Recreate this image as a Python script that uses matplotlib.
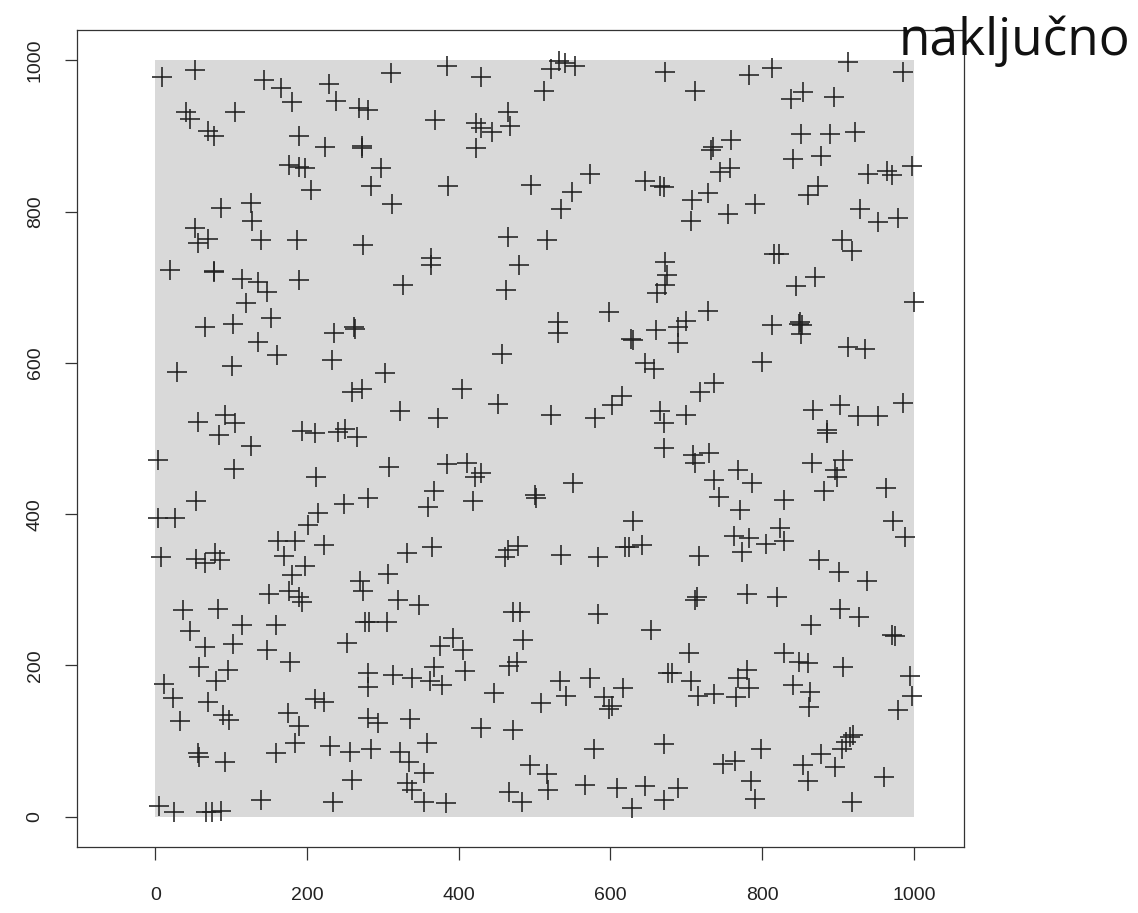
import matplotlib.pyplot as plt
from matplotlib.patches import Rectangle

# random point pattern in a 1000 x 1000 window
window_x = (0, 1000)
window_y = (0, 1000)

pts_x = [
    9, 52, 144, 166, 180, 229, 238, 311, 268, 280, 40, 46, 105, 70, 78, 189,
    224, 272, 273, 176, 189, 197, 298, 285, 206, 312, 87, 126, 128, 52, 70, 57,
    140, 187, 274,
    384, 430, 532, 540, 522, 553, 672, 513, 369, 465, 423, 430, 444, 468, 423, 386,
    495, 573, 549, 535, 645, 665, 670, 465, 517,
    711, 782, 813, 913, 986, 838, 854, 895, 735, 733, 759, 851, 890, 922, 841, 877,
    744, 758, 939, 965, 971, 997, 729, 708, 706, 755, 790, 861, 873, 929, 953, 979,
    905, 918,
    20, 77, 78, 115, 136, 148, 189, 327, 120, 65, 103, 153, 236, 262, 264, 136,
    160, 233, 29, 101, 303, 259, 272, 323, 56, 92, 105, 84, 193, 211, 241, 250, 266,
    364, 364, 479, 463, 531, 531, 598, 672, 674, 672, 662, 660, 627, 630, 646, 657,
    457, 405, 452, 373, 522, 580, 602, 615, 665, 671,
    815, 822, 870, 844, 1000, 729, 700, 689, 689, 813, 850, 852, 848, 851, 800, 913,
    935, 718, 737, 699, 867, 902, 926, 953, 986, 885, 885,
    126, 4, 104, 212, 308, 54, 4, 26, 249, 280, 215, 202, 162, 184, 222, 332, 8,
    54, 79, 86, 66, 170, 198, 180, 270, 274, 307, 150, 176, 190, 193, 320, 37, 83,
    114, 159, 277, 282, 305,
    671, 384, 411, 422, 430, 551, 500, 502, 367, 359, 419, 630, 365, 461, 465, 478,
    535, 584, 619, 624, 642, 348, 472, 481, 584,
    709, 712, 730, 768, 736, 787, 743, 771, 829, 823, 829, 763, 783, 774, 805, 717,
    866, 907, 896, 898, 882, 963, 973, 988, 875, 901, 938, 714, 712, 780, 820, 902,
    927, 865,
    46, 66, 103, 147, 178, 253, 58, 96, 11, 80, 24, 69, 89, 97, 33, 281, 281, 314,
    338, 211, 222, 175, 189, 184, 281, 294, 336, 57, 58, 92, 159, 231, 257, 285,
    323, 334, 259, 332, 338, 140, 235, 5, 25, 67, 75, 87,
    654, 393, 375, 406, 485, 367, 362, 378, 408, 477, 466, 446, 509, 534, 542, 573,
    617, 591, 602, 598, 676, 681, 430, 471, 358, 579, 671, 354, 494, 517, 518, 567,
    608, 646, 670, 628, 354, 383, 466, 483,
    971, 975, 703, 829, 848, 860, 907, 995, 706, 715, 736, 780, 768, 783, 765, 841,
    863, 862, 997, 979, 799, 749, 764, 785, 790, 689, 854, 878, 896, 861, 905, 911,
    916, 920, 960, 919,
]

pts_y = [
    978, 987, 974, 963, 945, 969, 946, 983, 937, 934, 932, 923, 932, 907, 900, 900,
    885, 887, 884, 861, 859, 857, 858, 834, 829, 810, 805, 811, 788, 778, 764, 758,
    763, 763, 756,
    993, 978, 999, 997, 988, 993, 984, 960, 921, 931, 917, 910, 905, 913, 884, 834,
    835, 850, 826, 803, 841, 834, 832, 767, 763,
    960, 980, 990, 998, 984, 949, 958, 951, 885, 882, 895, 903, 903, 905, 870, 873,
    852, 857, 850, 853, 849, 860, 824, 815, 788, 797, 810, 822, 834, 803, 786, 791,
    762, 748,
    723, 722, 720, 711, 707, 694, 710, 703, 679, 648, 652, 659, 639, 648, 645, 628,
    610, 604, 588, 596, 587, 561, 565, 536, 522, 531, 521, 505, 510, 507, 508, 513, 502,
    738, 729, 729, 696, 654, 640, 667, 733, 716, 703, 692, 644, 632, 630, 600, 592,
    612, 565, 546, 527, 531, 527, 544, 556, 536, 521,
    744, 744, 714, 702, 681, 669, 656, 647, 626, 650, 654, 650, 652, 638, 601, 621,
    618, 562, 573, 531, 538, 544, 530, 530, 547, 511, 507,
    490, 472, 460, 449, 462, 418, 395, 395, 413, 421, 401, 386, 365, 364, 359, 349,
    344, 341, 349, 340, 335, 345, 332, 320, 311, 298, 321, 295, 298, 291, 284, 287,
    273, 275, 253, 253, 257, 258, 257,
    487, 466, 467, 449, 455, 441, 425, 422, 430, 409, 417, 391, 357, 344, 353, 358,
    346, 343, 356, 356, 359, 280, 271, 271, 268,
    478, 467, 481, 458, 445, 441, 423, 406, 419, 382, 364, 371, 369, 350, 361, 345,
    468, 472, 458, 449, 431, 434, 391, 370, 340, 323, 311, 291, 287, 295, 291, 274,
    264, 254,
    245, 225, 228, 221, 205, 230, 198, 194, 176, 179, 157, 152, 135, 128, 126, 190,
    172, 188, 183, 155, 152, 137, 120, 97, 130, 124, 129, 84, 79, 72, 84, 94, 86,
    89, 86, 73, 49, 44, 36, 22, 19, 14, 6, 6, 6, 7,
    247, 236, 226, 221, 233, 198, 179, 174, 192, 205, 199, 163, 151, 179, 160, 184,
    170, 158, 147, 142, 190, 190, 117, 114, 98, 90, 96, 58, 69, 57, 36, 42, 38, 40,
    22, 11, 20, 18, 33, 20,
    240, 239, 216, 217, 204, 203, 198, 186, 179, 160, 162, 194, 184, 170, 158, 174,
    165, 145, 160, 141, 90, 70, 74, 47, 23, 38, 69, 83, 66, 47, 90, 99, 105, 108,
    52, 19,
]

tick_vals = [0, 200, 400, 600, 800, 1000]

fig = plt.figure(figsize=(11.38, 9.13), dpi=100)
ax = fig.add_axes([0.0677, 0.0723, 0.7794, 0.8948])

ax.add_patch(Rectangle((window_x[0], window_y[0]),
                       window_x[1] - window_x[0], window_y[1] - window_y[0],
                       facecolor='#d9d9d9', edgecolor='none', zorder=0))
ax.plot(pts_x, pts_y, linestyle='none', marker='+', markersize=14,
        markeredgewidth=1.15, color='#222222', zorder=2)

ax.set_xlim(-103, 1066)
ax.set_ylim(-40, 1040)
ax.set_xticks(tick_vals)
ax.set_yticks(tick_vals)
ax.set_xticklabels([str(v) for v in tick_vals])
ax.set_yticklabels([str(v) for v in tick_vals], rotation=90, va='center')
ax.tick_params(direction='out', length=9, width=0.9, color='#333333',
               labelsize=14, labelcolor='#222222')
ax.tick_params(axis='x', pad=20)
ax.tick_params(axis='y', pad=15)
for lbl in ax.get_xticklabels() + ax.get_yticklabels():
    lbl.set_family('Liberation Sans')
for sp in ax.spines.values():
    sp.set_linewidth(0.9)
    sp.set_color('#333333')

fig.text(0.993, 0.955, 'naključno', ha='right', va='center',
         fontsize=37, family='Open Sans', color='#111111')

fig.savefig('out.png', dpi=100, facecolor='white')
